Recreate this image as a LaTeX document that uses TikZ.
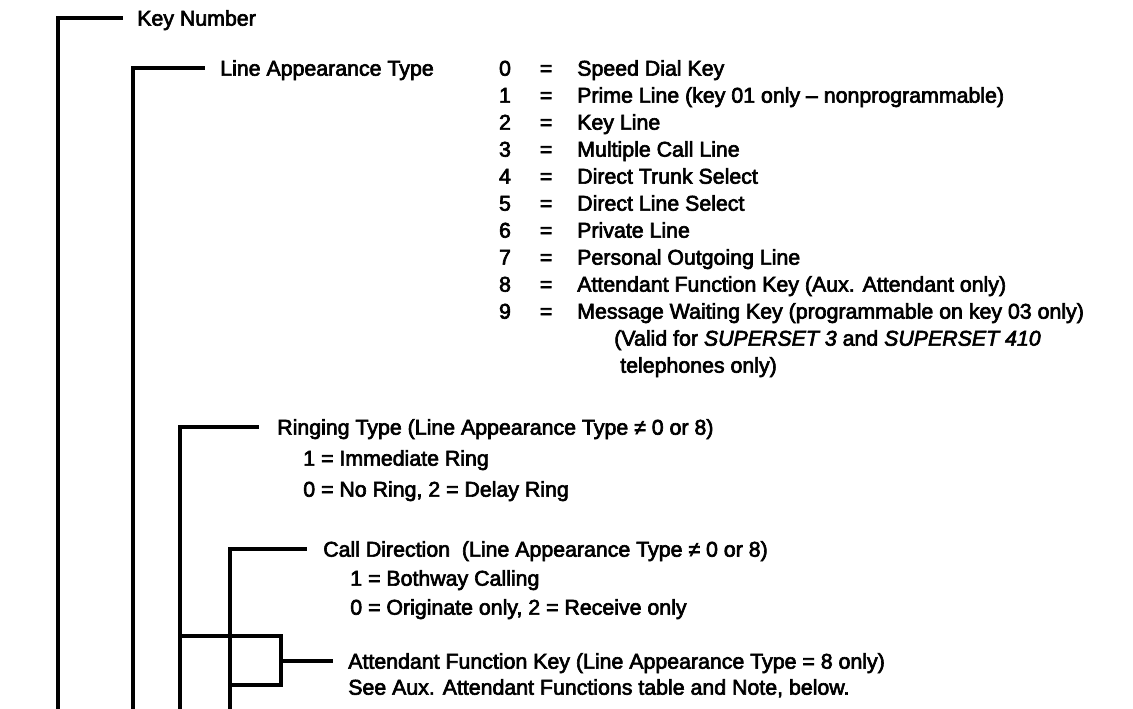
\documentclass[tikz,border=0pt]{standalone}
\usepackage{fontspec}
\newfontfamily\scanfont{Liberation Sans}[FakeBold=3]
\usetikzlibrary{calc}
\begin{document}
\begin{tikzpicture}[x=0.75pt,y=-0.75pt,
  ln/.style={line width=2.6pt, line join=miter},
  stub/.style={line width=2.3pt},
  lbl/.style={anchor=west, inner sep=0pt, text height=11.5pt, text depth=0pt,
              font=\scanfont\fontsize{16}{19}\selectfont},
  num/.style={lbl, anchor=center}
]
\useasboundingbox (0,0) rectangle (1133,709);

% labels
\node[lbl] (keynum) at (137,18) {Key Number};
\node[lbl] (lat) at (220,68) {Line Appearance Type};
\foreach \i/\t in {0/{Speed Dial Key},
                   1/{Prime Line (key 01 only – nonprogrammable)},
                   2/{Key Line},
                   3/{Multiple Call Line},
                   4/{Direct Trunk Select},
                   5/{Direct Line Select},
                   6/{Private Line},
                   7/{Personal Outgoing Line},
                   8/{Attendant Function Key (Aux. Attendant only)},
                   9/{Message Waiting Key (programmable on key 03 only)}}{
  \node[num] (d\i) at (505,{68+27*\i}) {\i};
  \node[num] (e\i) at (546,{68+27*\i}) {=};
  \node[lbl] (t\i) at (577,{68+27*\i}) {\t};
}
\node[lbl] (valid) at (614,338) {(Valid for {\itshape SUPERSET 3} and {\itshape SUPERSET 410}};
\node[lbl] (tel) at (620,365) {telephones only)};

\node[lbl] (ring) at (277,427) {Ringing Type (Line Appearance Type ≠ 0 or 8)};
\node[lbl] (ring1) at (303,458) {1 = Immediate Ring};
\node[lbl] (ring2) at (303,489) {0 = No Ring, 2 = Delay Ring};

\node[lbl] (cd) at (323,549) {Call Direction\ \ (Line Appearance Type ≠ 0 or 8)};
\node[lbl] (cd1) at (350,578) {1 = Bothway Calling};
\node[lbl] (cd2) at (350,607) {0 = Originate only, 2 = Receive only};

\node[lbl] (att) at (348,661) {Attendant Function Key (Line Appearance Type = 8 only)};
\node[lbl] (att2) at (348,687) {See Aux. Attendant Functions table and Note, below.};

% free ends at the bottom edge
\coordinate (botA) at (58,709);
\coordinate (botB) at (133,709);
\coordinate (botC) at (180,709);
\coordinate (botD) at (230,709);
% bracket points
\coordinate (jC) at (180,636);
\coordinate (jD) at (230,685);
\coordinate (brk) at (281,661);

% connectors
\draw[ln] (botA) |- ($(keynum.west)+(-14,0)$);
\draw[ln] (botB) |- ($(lat.west)+(-15,0)$);
\draw[ln] (botC) |- ($(ring.west)+(-18,0)$);
\draw[ln] (botD) |- ($(cd.west)+(-16,0)$);
\draw[ln] (jC) -| (brk |- jD) -- (jD);
\draw[stub] (brk) -- ($(att.west)+(-15,0)$);
\end{tikzpicture}
\end{document}
